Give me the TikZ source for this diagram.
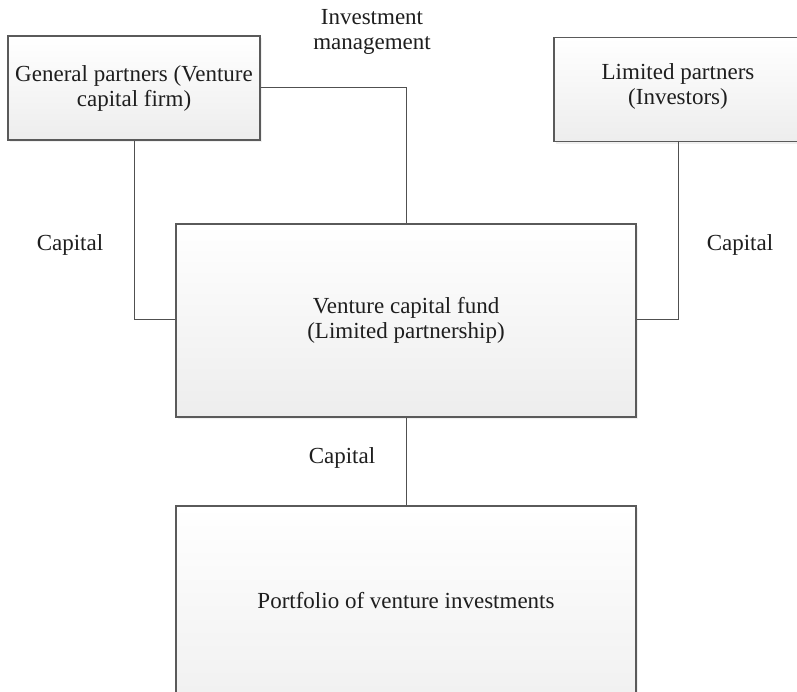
\documentclass[tikz,border=0pt]{standalone}
\usepackage{fontspec}
\setmainfont{Liberation Serif}
\usetikzlibrary{shadows}
\definecolor{boxline}{HTML}{5A5A5A}
\definecolor{boxlow}{HTML}{EDEDED}
\definecolor{wire}{HTML}{505050}
\definecolor{ink}{HTML}{1E1E1E}
\tikzset{
  pbox/.style={draw=boxline, line width=1.5pt, rectangle, inner sep=2pt,
    top color=white, bottom color=boxlow, align=center, text=ink,
    font=\fontsize{23}{25}\selectfont,
    drop shadow={opacity=0.12, shadow xshift=2pt, shadow yshift=-2pt}},
  lbl/.style={text=ink, align=center, font=\fontsize{23}{25}\selectfont, inner sep=0pt},
  wirel/.style={draw=wire, line width=1pt}
}
\begin{document}
\begin{tikzpicture}[x=1pt,y=-1pt]
\useasboundingbox (0,0) rectangle (797,692);
\clip (0,0) rectangle (797,692);
% boxes
\node[pbox, minimum width=252pt, minimum height=104pt] (gp) at (134,88)
  {General partners (Venture\\capital firm)};
\node[pbox, minimum width=260pt, minimum height=104pt, anchor=north west] (lp) at (553,37) {};
\node[lbl] (lpt) at (678,86) {Limited partners\\(Investors)};
\node[pbox, minimum width=460pt, minimum height=193pt] (vc) at (406,320.5)
  {Venture capital fund\\(Limited partnership)};
\node[pbox, minimum width=460pt, minimum height=240pt, anchor=north] (pf) at (406,505) {};
\node[lbl] (pft) at (406,601) {Portfolio of venture investments};
% connectors
\coordinate (lpb) at (678,141);
\draw[wirel] (gp.south) |- (vc.west |- 0,319);
\draw[wirel] (gp.east) -| (vc.north);
\draw[wirel] (lpb) |- (vc.east |- 0,319);
\draw[wirel] (vc.south) -- (pf.north);
% labels
\node[lbl] (im) at (372,32) {Investment\\management};
\node[lbl] (capl) at (70,245) {Capital};
\node[lbl] (capr) at (740,245) {Capital};
\node[lbl] (capb) at (342,458) {Capital};
\end{tikzpicture}
\end{document}
